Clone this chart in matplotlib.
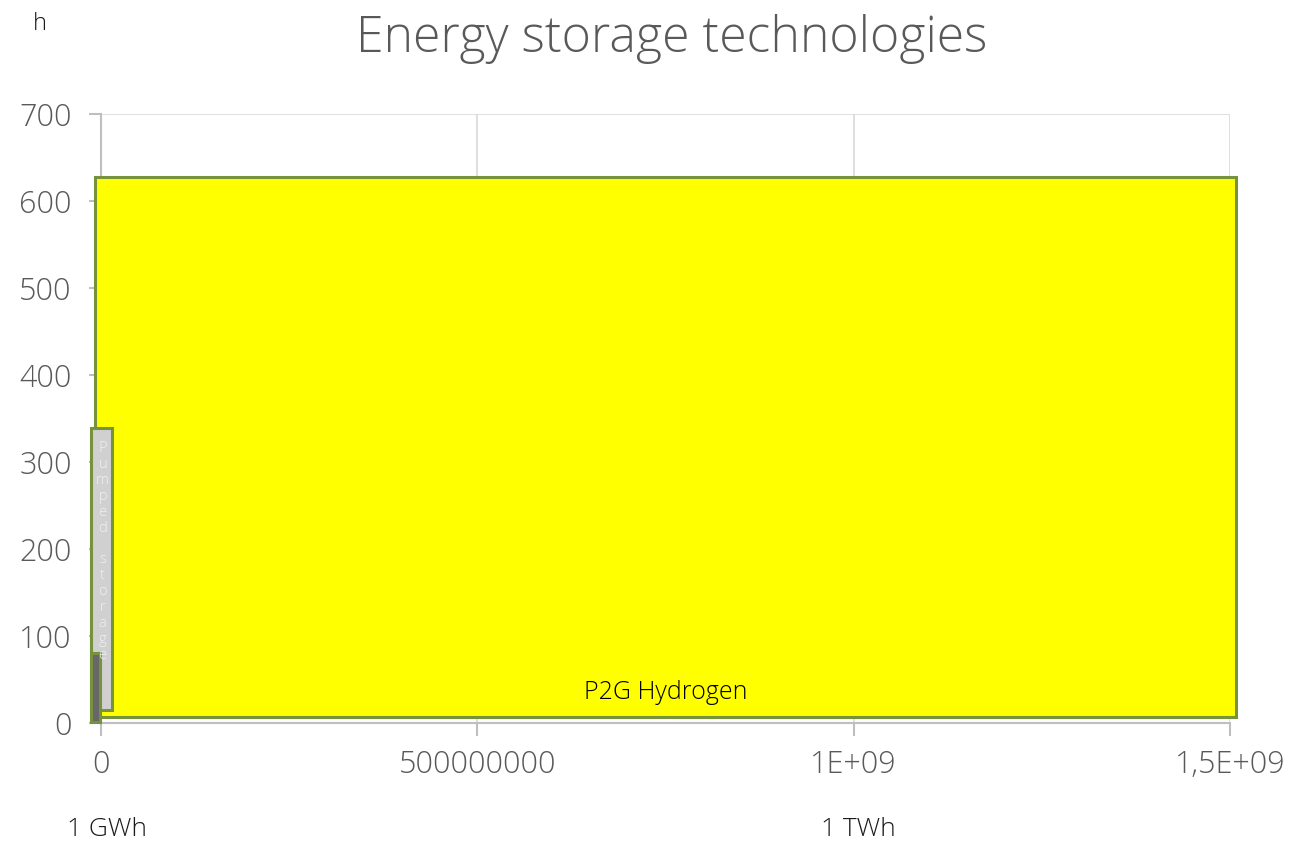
import matplotlib.pyplot as plt
from matplotlib.patches import Rectangle
import matplotlib.transforms as mtransforms

#===================================================================================================
#Data (energy in kWh on x, storage duration in hours on y)

tech_names = ['P2G Hydrogen', 'Pumped storage', '']
energy_min = [-8e6, -1.33e7, -1.33e7]
energy_max = [1.508e9, 1.46e7, -1.5e6]
hours_min = [7, 15, 1]
hours_max = [628, 339, 80.5]
fill_colors = ['#ffff00', '#d0d0d0', '#676767']

x_ticks = [0, 5e8, 1e9, 1.5e9]
x_tick_labels = ['0', '500000000', '1E+09', '1,5E+09']
y_ticks = [0, 100, 200, 300, 400, 500, 600, 700]
unit_marks = [1e6, 1e9]
unit_labels = ['1 GWh', '1 TWh']

#===================================================================================================
#Plot

plt.rcParams['font.family'] = ['Open Sans', 'DejaVu Sans']
plt.rcParams['font.weight'] = 'light'
fig = plt.figure(figsize=(12.91, 8.5), dpi=100)
ax = fig.add_axes([0.0782, 0.1494, 0.8746, 0.7165])

edge = '#76923c'
for i in range(len(tech_names)):
    r = Rectangle((energy_min[i], hours_min[i]), energy_max[i] - energy_min[i],
                  hours_max[i] - hours_min[i], facecolor=fill_colors[i],
                  edgecolor=edge, linewidth=2.2, clip_on=False, zorder=3 + i)
    ax.add_patch(r)

ax.text((energy_min[0] + energy_max[0]) / 2, 35, tech_names[0], ha='center', va='center',
        fontsize=18, color='black', zorder=10)
ax.text((energy_min[1] + energy_max[1]) / 2 + 1.5e6, 324, '\n'.join(tech_names[1]),
        ha='center', va='top', fontsize=10.5, color='#f0f0f0', linespacing=1.08, zorder=10)

ax.set_xlim(0, 1.5e9)
ax.set_ylim(0, 700)
ax.set_xticks(x_ticks)
ax.set_xticklabels(x_tick_labels)
ax.set_yticks(y_ticks)

ax.grid(True, color='#d9d9d9', linewidth=1.2, zorder=0)
ax.set_axisbelow(True)
for s in ['top', 'right']:
    ax.spines[s].set_visible(False)
for s in ['left', 'bottom']:
    ax.spines[s].set_color('#bfbfbf')
    ax.spines[s].set_linewidth(1.5)
ax.tick_params(axis='both', colors='#bfbfbf', labelcolor='#595959', labelsize=22,
               length=9, width=1.5)
ax.tick_params(axis='x', pad=10)
ax.tick_params(axis='y', pad=12)

trans = mtransforms.blended_transform_factory(ax.transData, fig.transFigure)
shift = mtransforms.ScaledTranslation(5 / 100, 0, fig.dpi_scale_trans)
for xv, lab in zip(unit_marks, unit_labels):
    ax.text(xv, 1 - 829 / 850, lab, transform=trans + shift, ha='center', va='center',
            fontsize=19, color='#1a1a1a')

fig.text(40 / 1291, 1 - 24 / 850, 'h', ha='center', va='center', fontsize=17, color='#1a1a1a')
fig.text(672 / 1291, 1 - 39 / 850, 'Energy storage technologies', ha='center', va='center',
         fontsize=36, color='#595959')

plt.savefig('out.png', dpi=100)
